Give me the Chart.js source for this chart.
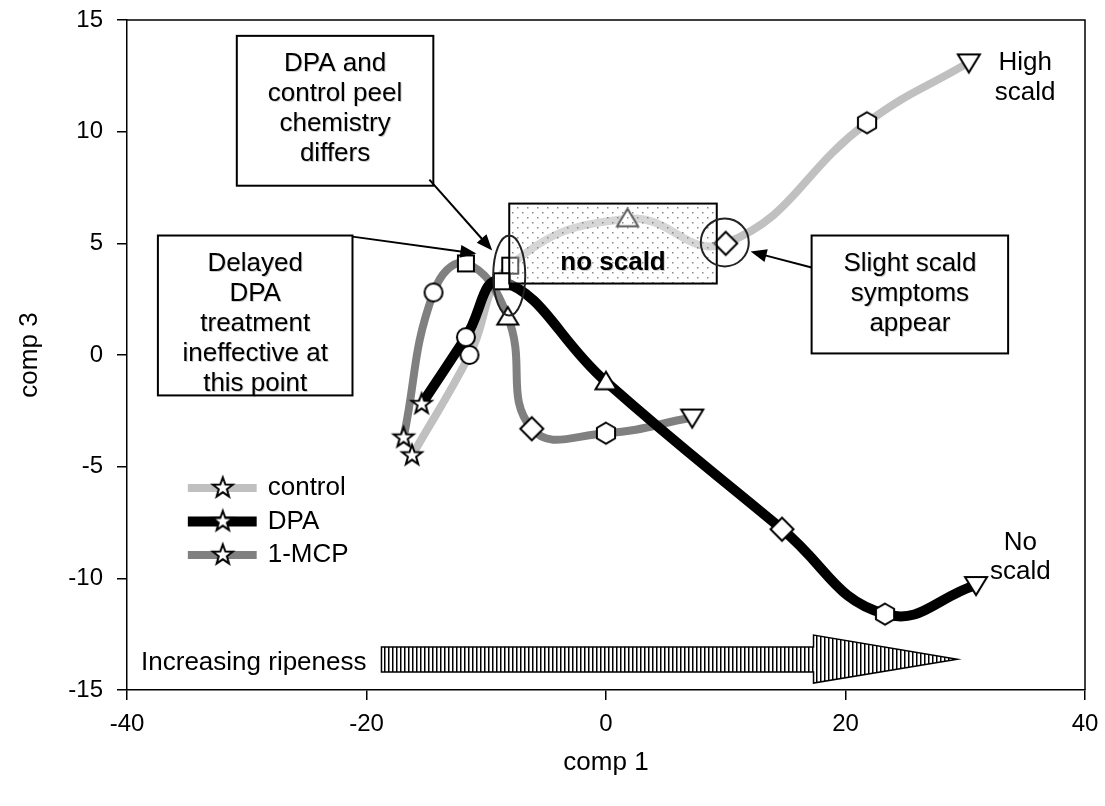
<!DOCTYPE html>
<html>
<head>
<meta charset="utf-8">
<script src="https://cdn.jsdelivr.net/npm/chart.js@4.4.1/dist/chart.umd.min.js"></script>
<style>
body { margin: 0; background: #fff; }
</style>
</head>
<body>
<canvas id="chart" width="1105" height="806"></canvas>
<script>
var seriesNames = ['control', 'DPA', '1-MCP'];
var controlX = [-16.2, -11.4, -8.0, 1.8, 10.0, 21.8, 30.3];
var controlY = [-4.5, 0.0, 4.0, 6.1, 5.0, 10.4, 13.1];
var dpaX = [-15.4, -11.7, -8.7, 0.0, 14.7, 23.3, 30.9];
var dpaY = [-2.2, 0.8, 3.3, -1.2, -7.8, -11.6, -10.3];
var mcpX = [-16.9, -14.4, -11.7, -8.2, -6.2, 0.0, 7.2];
var mcpY = [-3.7, 2.8, 4.1, 1.7, -3.3, -3.5, -2.8];
var markerShapes = ['star', 'circle', 'square', 'triangle', 'diamond', 'hexagon', 'invtriangle'];
var xTicks = [-40, -20, 0, 20, 40];
var yTicks = [-15, -10, -5, 0, 5, 10, 15];

var FONT = '"Liberation Sans", Arial, sans-serif';
Chart.defaults.font.family = FONT;
Chart.defaults.color = '#000';

// marker pictures, white fill with black outline
function makeMarker(shape) {
	var c = document.createElement('canvas');
	c.width = 28; c.height = 28;
	var g = c.getContext('2d');
	g.translate(14, 14);
	g.beginPath();
	var i, r, a;
	if (shape === 'star') {
		for (i = 0; i < 10; i++) {
			r = i % 2 ? 4.3 : 10.5;
			a = -Math.PI / 2 + i * Math.PI / 5;
			g.lineTo(r * Math.cos(a), r * Math.sin(a));
		}
	} else if (shape === 'circle') {
		g.arc(0, 0, 9, 0, Math.PI * 2);
	} else if (shape === 'square') {
		g.rect(-8, -8, 16, 16);
	} else if (shape === 'triangle') {
		g.moveTo(0, -10); g.lineTo(10.5, 7.5); g.lineTo(-10.5, 7.5);
	} else if (shape === 'diamond') {
		g.moveTo(0, -11.5); g.lineTo(11.5, 0); g.lineTo(0, 11.5); g.lineTo(-11.5, 0);
	} else if (shape === 'hexagon') {
		for (i = 0; i < 6; i++) {
			a = -Math.PI / 2 + i * Math.PI / 3;
			g.lineTo(10.5 * Math.cos(a), 10.5 * Math.sin(a));
		}
	} else if (shape === 'invtriangle') {
		g.moveTo(-11, -8); g.lineTo(11, -8); g.lineTo(0, 10);
	}
	g.closePath();
	g.fillStyle = '#fff';
	g.fill();
	g.lineWidth = 2;
	g.strokeStyle = '#000';
	g.stroke();
	return c;
}
var markers = markerShapes.map(makeMarker);

function pts(xs, ys) {
	return xs.map(function(x, i) { return {x: x, y: ys[i]}; });
}

function dotPattern(c) {
	var p = document.createElement('canvas');
	p.width = 10; p.height = 10;
	var g = p.getContext('2d');
	g.fillStyle = '#888';
	g.fillRect(2, 2, 1.5, 1.5);
	g.fillRect(7, 7, 1.5, 1.5);
	return c.createPattern(p, 'repeat');
}
function stripePattern(c) {
	var p = document.createElement('canvas');
	p.width = 4; p.height = 4;
	var g = p.getContext('2d');
	g.fillStyle = '#fff';
	g.fillRect(0, 0, 4, 4);
	g.fillStyle = '#000';
	g.fillRect(0, 0, 1.5, 4);
	return c.createPattern(p, 'repeat');
}

var annotate = {
	id: 'annotate',
	afterDatasetsDraw: function(chart) {
		var c = chart.ctx, sx = chart.scales.x, sy = chart.scales.y;
		function X(v) { return sx.getPixelForValue(v); }
		function Y(v) { return sy.getPixelForValue(v); }
		function shadowOn() {
			c.shadowColor = 'rgba(0,0,0,0.2)';
			c.shadowOffsetX = 1; c.shadowOffsetY = 1; c.shadowBlur = 0;
		}
		function shadowOff() {
			c.shadowColor = 'transparent';
			c.shadowOffsetX = 0; c.shadowOffsetY = 0;
		}
		function textBox(x0, y0, x1, y1, lines) {
			var L = X(x0), T = Y(y0), R = X(x1), B = Y(y1);
			c.fillStyle = '#fff';
			c.fillRect(L, T, R - L, B - T);
			c.lineWidth = 2;
			c.strokeStyle = '#000';
			c.strokeRect(L, T, R - L, B - T);
			c.font = '26px ' + FONT;
			c.textAlign = 'center';
			c.textBaseline = 'middle';
			c.fillStyle = '#000';
			shadowOn();
			lines.forEach(function(s, i) { c.fillText(s, (L + R) / 2, T + 28 + i * 30); });
			shadowOff();
		}
		function arrow(x0, y0, x1, y1) {
			var ax = X(x0), ay = Y(y0), bx = X(x1), by = Y(y1);
			var ang = Math.atan2(by - ay, bx - ax);
			c.strokeStyle = '#000';
			c.fillStyle = '#000';
			c.lineWidth = 2;
			c.beginPath();
			c.moveTo(ax, ay);
			c.lineTo(bx - 12 * Math.cos(ang), by - 12 * Math.sin(ang));
			c.stroke();
			c.beginPath();
			c.moveTo(bx, by);
			c.lineTo(bx - 16 * Math.cos(ang) + 6.5 * Math.sin(ang), by - 16 * Math.sin(ang) - 6.5 * Math.cos(ang));
			c.lineTo(bx - 16 * Math.cos(ang) - 6.5 * Math.sin(ang), by - 16 * Math.sin(ang) + 6.5 * Math.cos(ang));
			c.closePath();
			c.fill();
		}
		function label(s, x, y, align, bold) {
			c.font = (bold ? 'bold ' : '') + '26px ' + FONT;
			c.textAlign = align;
			c.textBaseline = 'middle';
			c.fillStyle = '#000';
			c.fillText(s, x, y);
		}

		c.save();

		// "no scald" window laid over the curves
		var L = X(-8.08), T = Y(6.78), R = X(9.25), B = Y(3.2);
		c.fillStyle = 'rgba(255,255,255,0.35)';
		c.fillRect(L, T, R - L, B - T);
		c.fillStyle = dotPattern(c);
		c.fillRect(L, T, R - L, B - T);
		c.lineWidth = 2;
		c.strokeStyle = '#000';
		c.strokeRect(L, T, R - L, B - T);
		shadowOn();
		label('no scald', (L + R) / 2, B - 21, 'center', true);
		shadowOff();

		// ellipse and circle
		c.lineWidth = 2;
		c.strokeStyle = '#222';
		c.beginPath();
		c.ellipse(X(-8.08), Y(3.56), 16, 40, 0, 0, Math.PI * 2);
		c.stroke();
		c.beginPath();
		c.arc(X(9.92), Y(5.04), 24, 0, Math.PI * 2);
		c.stroke();

		// callouts
		textBox(-30.83, 14.29, -14.42, 7.58, ['DPA and', 'control peel', 'chemistry', 'differs']);
		arrow(-14.75, 7.85, -9.5, 4.68);
		textBox(-37.42, 5.35, -21.17, -1.81, ['Delayed', 'DPA', 'treatment', 'ineffective at', 'this point']);
		arrow(-21.17, 5.3, -10.83, 4.54);
		textBox(17.17, 5.35, 33.58, 0.07, ['Slight scald', 'symptoms', 'appear']);
		arrow(17.17, 3.92, 12.08, 4.63);

		label('High', X(35.0), Y(13.08), 'center');
		label('scald', X(35.0), Y(11.74), 'center');
		label('No', X(34.6), Y(-8.43), 'center');
		label('scald', X(34.6), Y(-9.72), 'center');

		// ripeness block arrow
		var x0 = X(-18.75), x1 = X(17.33), xt = X(29.33);
		var yb0 = Y(-13.08), yb1 = Y(-14.19), yh0 = Y(-12.54), yh1 = Y(-14.69), yt = Y(-13.62);
		c.beginPath();
		c.moveTo(x0, yb0); c.lineTo(x1, yb0); c.lineTo(x1, yh0); c.lineTo(xt, yt);
		c.lineTo(x1, yh1); c.lineTo(x1, yb1); c.lineTo(x0, yb1);
		c.closePath();
		c.fillStyle = stripePattern(c);
		c.fill();
		c.lineWidth = 1.5;
		c.strokeStyle = '#000';
		c.stroke();
		label('Increasing ripeness', X(-20.0), Y(-13.8), 'right');

		// legend
		var colors = ['#c0c0c0', '#000', '#808080'];
		var widths = [8, 10, 8];
		var ly = [-5.95, -7.45, -8.95];
		seriesNames.forEach(function(name, i) {
			var y = Y(ly[i]);
			c.strokeStyle = colors[i];
			c.lineWidth = widths[i];
			c.beginPath();
			c.moveTo(X(-34.92), y);
			c.lineTo(X(-29.17), y);
			c.stroke();
			c.drawImage(markers[0], X(-32.0) - 14, y - 14);
			label(name, X(-28.25), y, 'left');
		});

		c.restore();
	},
	afterDraw: function(chart) {
		var c = chart.ctx, a = chart.chartArea;
		c.save();
		c.strokeStyle = '#000';
		c.lineWidth = 1.5;
		c.beginPath();
		c.moveTo(a.left, a.top);
		c.lineTo(a.right, a.top);
		c.lineTo(a.right, a.bottom);
		c.stroke();
		c.restore();
	}
};

var chart = new Chart(document.getElementById('chart'), {
	type: 'scatter',
	data: {
		datasets: [
			{
				label: seriesNames[0],
				data: pts(controlX, controlY),
				showLine: true,
				borderColor: '#c0c0c0',
				borderWidth: 8,
				tension: 0.45,
				pointStyle: markers,
				pointRadius: 10,
				order: 2
			},
			{
				label: seriesNames[1],
				data: pts(dpaX, dpaY),
				showLine: true,
				borderColor: '#000',
				borderWidth: 10,
				tension: 0.45,
				pointStyle: markers,
				pointRadius: 10,
				order: 0
			},
			{
				label: seriesNames[2],
				data: pts(mcpX, mcpY),
				showLine: true,
				borderColor: '#808080',
				borderWidth: 8,
				tension: 0.45,
				pointStyle: markers,
				pointRadius: 10,
				order: 1
			}
		]
	},
	options: {
		responsive: false,
		animation: false,
		events: [],
		layout: { padding: { top: 19, right: 19, left: 0, bottom: 0 } },
		plugins: {
			legend: { display: false },
			tooltip: { enabled: false }
		},
		scales: {
			x: {
				type: 'linear',
				min: -40,
				max: 40,
				afterBuildTicks: function(s) { s.ticks = xTicks.map(function(v) { return {value: v}; }); },
				afterFit: function(s) { s.height = 116; s.paddingLeft = 0; s.paddingRight = 0; },
				ticks: { font: { size: 24 }, color: '#000', padding: 10, maxRotation: 0 },
				grid: { drawOnChartArea: false, drawTicks: true, tickLength: 10, color: '#000', lineWidth: 1.5 },
				border: { color: '#000', width: 1.5 },
				title: { display: true, text: 'comp 1', font: { size: 26 }, color: '#000', padding: { top: 0, bottom: 28 } }
			},
			y: {
				type: 'linear',
				min: -15,
				max: 15,
				afterBuildTicks: function(s) { s.ticks = yTicks.map(function(v) { return {value: v}; }); },
				afterFit: function(s) { s.width = 127; s.paddingTop = 0; s.paddingBottom = 0; },
				ticks: { font: { size: 24 }, color: '#000', padding: 14 },
				grid: { drawOnChartArea: false, drawTicks: true, tickLength: 10, color: '#000', lineWidth: 1.5 },
				border: { color: '#000', width: 1.5 },
				title: { display: true, text: 'comp 3', font: { size: 26 }, color: '#000', padding: { top: 14, bottom: 0 } }
			}
		}
	},
	plugins: [annotate]
});
</script>
</body>
</html>
